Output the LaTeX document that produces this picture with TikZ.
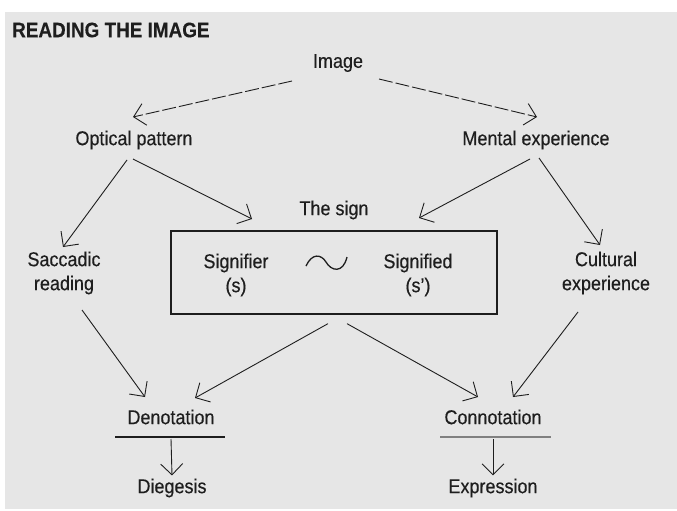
\documentclass[tikz,border=0pt]{standalone}
\usepackage{fontspec}
\setmainfont{Liberation Sans}[FakeStretch=0.9,FakeBold=0.3]
\usetikzlibrary{arrows.meta,calc}
\definecolor{bg}{HTML}{E6E6E6}
\definecolor{ink}{HTML}{1E1E1E}
\tikzset{
  lbl/.style={inner sep=0pt, text=ink, font=\fontsize{20}{24}\selectfont, align=center},
  two/.style={lbl, font=\fontsize{20}{24}\selectfont},
  arr/.style={draw=ink, line width=0.9pt, -{Straight Barb[length=11pt,width=22pt,line width=0.9pt]}},
  darr/.style={arr, dash pattern=on 14pt off 3pt},
}
\begin{document}
\begin{tikzpicture}[x=1pt,y=-1pt]
\useasboundingbox (0,0) rectangle (677,511);
\fill[bg] (5,12) rectangle (677,509);
\node[lbl, anchor=west, font=\bfseries\fontsize{21}{24}\selectfont] (title) at (12,30) {READING THE IMAGE};
\node[lbl] (img) at (338,63) {Image};
\node[lbl] (op) at (134,140) {Optical pattern};
\node[lbl] (me) at (536,140) {Mental experience};
\node[lbl] (sign) at (334,210) {The sign};
\node[draw=ink, line width=1.3pt, minimum width=326pt, minimum height=83pt, inner sep=0pt] (box) at (334,272.5) {};
\node[two] (sfr) at (236,275) {Signifier\\(s)};
\node[two] (sfd) at (418,275) {Signified\\(s')};
\node[two] (sac) at (64,273) {Saccadic\\reading};
\node[two] (cul) at (606,273) {Cultural\\experience};
\node[lbl] (den) at (171,417) {Denotation};
\node[lbl] (con) at (493,417) {Connotation};
\node[lbl] (die) at (172,488) {Diegesis};
\node[lbl] (exp) at (493,488) {Expression};
% tilde
\draw[ink, line width=1.3pt] (306,266) .. controls (312,253) and (321,254) .. (326,262)
  .. controls (331,271) and (343,274) .. (347,257);
% arrows
\draw[darr] ($(img)+(-46,18)$) -- ($(op)+(-1,-23)$);
\draw[darr] ($(img)+(41,16)$) -- ($(me)+(1,-23)$);
\draw[arr] ($(op)+(-7,20)$) -- ($(sac)+(-1,-26)$);
\draw[arr] ($(op)+(-1,19)$) -- ($(sign)+(-82,9)$);
\draw[arr] ($(me)+(-6,19)$) -- ($(sign)+(85,8)$);
\draw[arr] ($(me)+(3,18)$) -- ($(cul)+(-6,-28)$);
\draw[arr] ($(sac)+(18,37)$) -- ($(den)+(-26,-20)$);
\draw[arr] ($(box.south)+(-6,9)$) -- ($(den)+(24,-19)$);
\draw[arr] ($(box.south)+(13,9)$) -- ($(con)+(-15,-20)$);
\draw[arr] ($(cul)+(-28,39)$) -- ($(con)+(20,-20)$);
% underlines and down arrows
\draw[ink, line width=1.6pt] ($(den)+(-56,20)$) coordinate (dl) -- ($(den)+(54,20)$) coordinate (dr);
\draw[gray, line width=1.3pt] ($(con)+(-53,20)$) coordinate (cl) -- ($(con)+(58,20)$) coordinate (cr);
\draw[arr] ($(den)+(0,22)$) -- ($(die.north)+(0,-3)$);
\draw[arr] ($(con)+(0,22)$) -- ($(exp.north)+(0,-3)$);
\end{tikzpicture}
\end{document}
